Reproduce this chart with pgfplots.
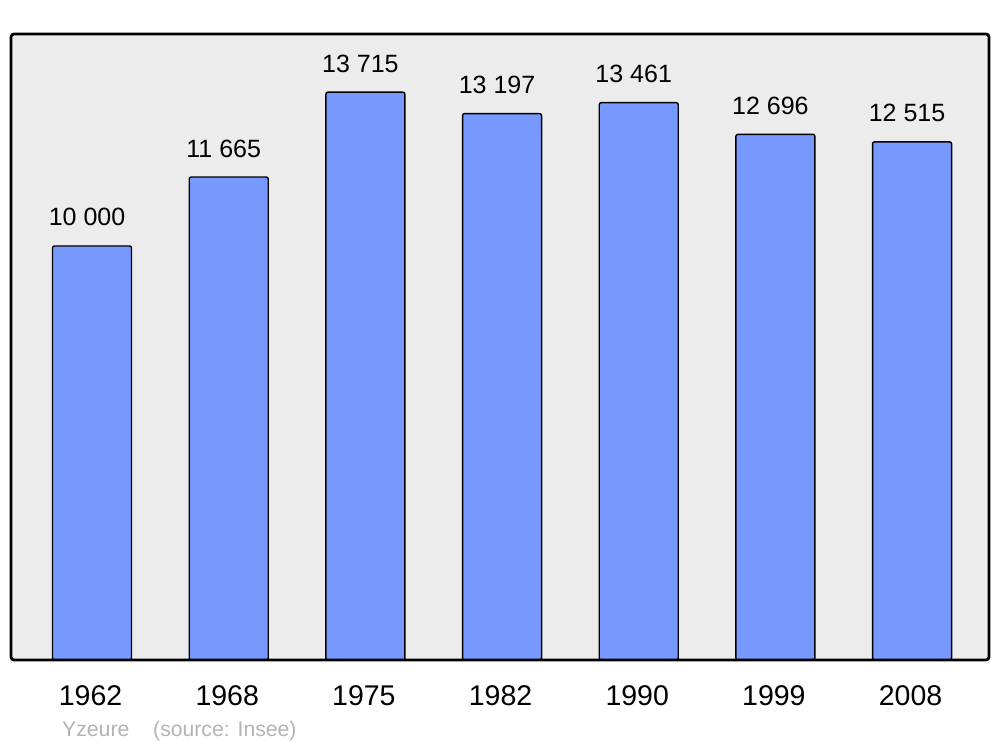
\documentclass[border=0pt]{standalone}
\usepackage{pgfplots}
\pgfplotsset{compat=1.18}
\usepackage{fontspec}
\setmainfont{Liberation Sans}
\definecolor{barblue}{HTML}{7799FF}
\definecolor{bggray}{HTML}{ECECEC}
\definecolor{srcgray}{HTML}{B3B3B3}
\begin{document}
\begin{tikzpicture}[x=1bp,y=1bp]
\path[use as bounding box] (0,0) rectangle (1000,747);
\begin{axis}[
  at={(11bp,87bp)}, anchor=south west,
  scale only axis, width=978bp, height=626bp,
  xmin=-0.593, xmax=6.563, ymin=0, ymax=15120,
  axis line style={draw=none},
  axis background/.style={fill=bggray},
  ytick=\empty,
  xtick={0,...,6},
  xticklabels={1962,1968,1975,1982,1990,1999,2008},
  major tick length=0pt,
  xticklabel style={font=\fontsize{28.5bp}{30bp}\selectfont, anchor=north, inner sep=0pt, yshift=-25bp, xshift=-1.5bp},
  ybar, bar width=79bp,
  nodes near coords,
  point meta=explicit symbolic,
  every node near coord/.append style={font=\fontsize{25bp}{27bp}\selectfont, anchor=base, inner sep=0pt, yshift=20bp, xshift=-5bp, black},
  clip=false,
]
\addplot[fill=barblue, draw=black, line width=1.4bp, rounded corners=2bp] coordinates {
  (0,10000) [10 000]
  (1,11665) [11 665]
  (2,13715) [13 715]
  (3,13197) [13 197]
  (4,13461) [13 461]
  (5,12696) [12 696]
  (6,12515) [12 515]
};
\draw[line width=2.8bp, rounded corners=3bp] (rel axis cs:0,0) rectangle (rel axis cs:1,1);
\end{axis}
\node[anchor=base west, inner sep=0pt, text=srcgray, font=\fontsize{21.2bp}{23bp}\selectfont] at (62,10) {Yzeure};
\node[anchor=base west, inner sep=0pt, text=srcgray, font=\fontsize{21.2bp}{23bp}\selectfont] at (153,10) {(source: Insee)};
\end{tikzpicture}
\end{document}
